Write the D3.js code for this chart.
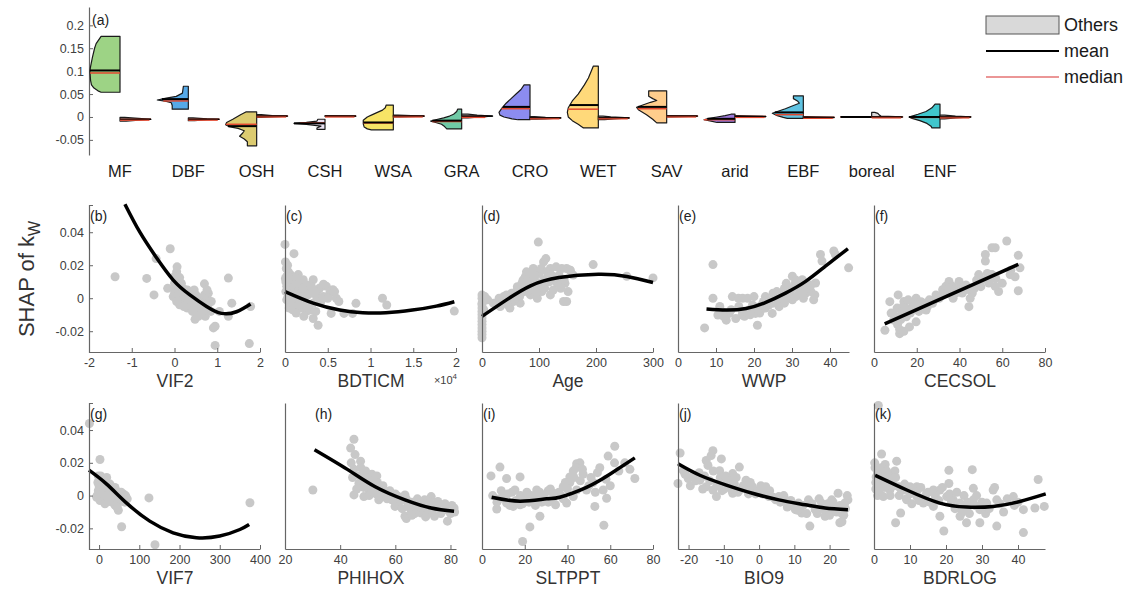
<!DOCTYPE html>
<html>
<head>
<meta charset="utf-8">
<script src="https://cdn.jsdelivr.net/npm/d3@7"></script>
<style>
  body { margin: 0; background: #fff; }
  text { font-family: "Liberation Sans", Arial, sans-serif; }
</style>
</head>
<body>
<script>
// ---------- panel (a): half violins per PFT vs. "Others" ----------
const pftNames = ["MF", "DBF", "OSH", "CSH", "WSA", "GRA", "CRO", "WET", "SAV", "arid", "EBF", "boreal", "ENF"];
const pftColors = ["#9dd385", "#55a9e8", "#dccb70", "#ece4f4", "#f7e466", "#6fcaa6", "#8c8cf0", "#ffd97a", "#ffcd8c", "#9c78da", "#5fc3e2", "#b8735c", "#40c6cc"];
// [SHAP value, relative density]
const pftDensity = [
  [[0.176,0.61],[0.16,0.77],[0.15,0.82],[0.13,0.89],[0.11,0.95],[0.10,0.97],[0.08,0.95],[0.07,0.92],[0.063,0.84],[0.057,0.71],[0.054,0.61]],
  [[0.067,0.16],[0.052,0.19],[0.045,0.39],[0.041,0.71],[0.037,1],[0.034,0.71],[0.031,0.55],[0.025,0.52],[0.017,0.52]],
  [[0.011,0.35],[0.005,0.52],[-0.005,0.77],[-0.012,0.97],[-0.017,1],[-0.021,0.9],[-0.025,0.6],[-0.03,0.4],[-0.035,0.45],[-0.042,0.55],[-0.048,0.4],[-0.054,0.3],[-0.063,0.3]],
  [[-0.005,0.23],[-0.009,0.26],[-0.012,0.6],[-0.014,1],[-0.016,0.6],[-0.02,0.13],[-0.024,0.26],[-0.027,0.26]],
  [[0.026,0.23],[0.02,0.26],[0.015,0.35],[0.009,0.55],[0.004,0.71],[0,0.84],[-0.007,0.97],[-0.015,0.97],[-0.022,0.94],[-0.026,0.84],[-0.028,0.71]],
  [[0.017,0.13],[0.012,0.16],[0.006,0.26],[0.002,0.39],[-0.002,0.58],[-0.006,0.84],[-0.009,1],[-0.012,0.84],[-0.016,0.65],[-0.021,0.55],[-0.026,0.48]],
  [[0.07,0.19],[0.06,0.29],[0.05,0.45],[0.04,0.61],[0.03,0.77],[0.02,0.9],[0.01,1],[0.004,0.97],[0,0.84],[-0.004,0.58],[-0.006,0.39]],
  [[0.111,0.16],[0.1,0.23],[0.085,0.32],[0.07,0.45],[0.05,0.65],[0.035,0.84],[0.02,0.97],[0.01,1],[0,0.97],[-0.008,0.84],[-0.016,0.65],[-0.024,0.48]],
  [[0.057,0.58],[0.045,0.58],[0.04,0.45],[0.036,0.32],[0.032,0.52],[0.026,0.77],[0.021,0.97],[0.015,0.9],[0.005,0.65],[-0.005,0.45],[-0.013,0.32]],
  [[0.006,0.13],[0.003,0.32],[0,0.58],[-0.003,0.84],[-0.006,1],[-0.009,0.77],[-0.012,0.58]],
  [[0.046,0.32],[0.04,0.32],[0.035,0.19],[0.03,0.13],[0.025,0.32],[0.018,0.58],[0.012,0.84],[0.008,1],[0.003,0.84],[-0.001,0.65],[-0.003,0.52]],
  [[0.001,0.2],[0,1],[-0.001,0.2]],
  [[0.028,0.16],[0.02,0.26],[0.012,0.45],[0.006,0.71],[0.002,0.9],[0,1],[-0.003,0.9],[-0.008,0.65],[-0.014,0.42],[-0.02,0.29],[-0.024,0.26]]
];
const pftMean   = [0.1015, 0.039, -0.020, -0.014, -0.012, -0.008, 0.022, 0.026, 0.022, -0.004, 0.010, 0, 0.0];
const pftMedian = [0.096, 0.035, -0.016, -0.013, -0.013, -0.010, 0.018, 0.017, 0.018, -0.006, 0.005, 0, -0.001];
const othersDensity = [
  [[-0.001,0.15],[-0.003,0.6],[-0.005,1],[-0.007,0.6],[-0.009,0.2]],
  [[-0.002,0.15],[-0.004,0.6],[-0.005,1],[-0.006,0.6],[-0.008,0.2]],
  [[0.005,0.15],[0.003,0.5],[0.002,1],[0.0,0.5],[-0.001,0.15]],
  [[0.003,0.1],[0.002,1],[0.001,0.1]],
  [[0.004,0.15],[0.002,1],[0,0.2]],
  [[0.006,0.2],[0.004,0.5],[0.002,1],[0,0.6],[-0.002,0.2]],
  [[0.001,0.15],[-0.001,0.5],[-0.002,1],[-0.004,0.5],[-0.005,0.2]],
  [[0.002,0.15],[0,0.4],[-0.002,1],[-0.004,0.5],[-0.006,0.2]],
  [[0.003,0.1],[0.002,1],[0.0,0.15]],
  [[0.003,0.1],[0.001,1],[0,0.15]],
  [[0.001,0.1],[-0.001,1],[-0.002,0.1]],
  [[0.01,0.1],[0.008,0.2],[0.004,0.25],[0.002,0.3],[0,1],[-0.001,0.3]],
  [[0.004,0.15],[0.002,0.5],[0,1],[-0.002,0.5],[-0.004,0.15]]
];
const othersMean   = [-0.005, -0.005, 0.002, 0.002, 0.002, 0.002, -0.002, -0.002, 0.002, 0.001, -0.001, 0, 0];
const othersMedian = [-0.005, -0.005, 0.002, 0.002, 0.002, 0.001, -0.002, -0.002, 0.002, 0.001, -0.001, 0, 0];
const aTicks = [-0.05, 0, 0.05, 0.1, 0.15, 0.2];

// ---------- panels (b)-(k): SHAP vs. predictor ----------
const panelTags = ["(b)", "(c)", "(d)", "(e)", "(f)", "(g)", "(h)", "(i)", "(j)", "(k)"];
const xLabels = ["VIF2", "BDTICM", "Age", "WWP", "CECSOL", "VIF7", "PHIHOX", "SLTPPT", "BIO9", "BDRLOG"];
const xDomains = [[-2,2],[0,2],[0,300],[0,45],[0,80],[-25,400],[20,82],[0,80],[-23,25.5],[0,47.5]];
const xTicks = [[-2,-1,0,1,2],[0,0.5,1,1.5,2],[0,100,200,300],[0,10,20,30,40],[0,20,40,60,80],
                [0,100,200,300,400],[20,40,60,80],[0,20,40,60,80],[-20,-10,0,10,20],[0,10,20,30,40]];
const yTicks = [-0.02, 0, 0.02, 0.04];

const ptsVIF2 = [[-1.39,0.013],[-0.65,0.012],[-0.48,0.002],[-0.43,0.024],[-0.1,0.030],[-0.16,0.006],[0.05,0.016],[0.12,0.0125],[0.08,0.010],[0.0,0.003],[-0.03,0.001],[0.09,0.005],[0.21,0.003],[0.29,0.001],[0.36,-0.001],[0.44,-0.003],[0.52,-0.005],[0.6,-0.003],[0.67,-0.001],[0.75,0.001],[0.79,0.003],[0.6,-0.007],[0.52,-0.009],[0.7,0.0087],[1.26,0.0122],[1.34,-0.003],[0.91,-0.018],[0.95,-0.0286],[1.75,-0.0275],[1.78,-0.005],[0.48,-0.0128],[0.72,-0.011],[1.26,-0.011],[0.15,0.0],[0.25,-0.002],[0.35,0.002],[0.4,-0.005],[0.55,0.0],[0.05,-0.002],[0.3,-0.006],[0.65,-0.005],[0.8,-0.003],[0.1,0.007],[0.2,0.006],[0.0,0.009],[0.95,-0.017],[1.05,-0.008],[0.85,-0.008],
  [0.02,0.006],[0.1,0.002],[0.18,-0.001],[0.26,0.004],[0.32,-0.003],[0.38,0.0],[0.46,-0.002],[0.5,0.002],[0.58,-0.001],[0.62,-0.006],[0.68,-0.004],[0.74,-0.002],[0.7,0.002],[0.42,-0.008],[0.56,-0.011],[0.64,-0.009],[0.78,-0.006],[0.86,-0.002],[0.12,-0.004],[0.22,-0.005],[0.0,0.013],[0.06,0.019],[0.16,0.009],[0.3,0.005],[0.46,0.005],[0.76,0.005]];
const fitVIF2 = [[-1.16,0.057],[-0.81,0.040],[-0.42,0.0245],[-0.03,0.011],[0.36,0.002],[0.75,-0.005],[1.1,-0.0092],[1.45,-0.0082],[1.78,-0.0035]];

const ptsBDTICM = [[0,0.0326],[0.105,0.027],[0.02,0.0133],[0.058,0.0112],[0.097,0.0123],[0.136,0.0092],[0.174,0.0072],[0.213,0.0112],[0.252,0.0051],[0.29,0.0031],[0.039,0.0031],[0.078,-0.001],[0.116,-0.0041],[0.174,0.001],[0.233,-0.003],[0.29,-0.0072],[0.33,-0.003],[0.368,0.001],[0.02,0.0072],[0.02,-0.001],[0.155,0.0143],[0.33,0.0112],[0.387,0.0051],[0.407,0.0062],[0.446,0.001],[0.484,0.0072],[0.523,0.0031],[0.56,0.0051],[0.6,0.0],[0.63,-0.002],[0.54,-0.0092],[0.387,-0.0164],[0.33,-0.0123],[0.69,-0.0092],[0.79,-0.0092],[0.83,-0.0031],[1.14,0.0],[1.19,-0.0041],[1.98,-0.0078],[0.01,0.01],[0.05,0.006],[0.07,0.014],[0.12,0.011],[0.1,0.004],[0.2,0.002],[0.26,0.008],[0.04,0.016],[0.015,0.018],[0.06,-0.004],[0.18,-0.006],[0.45,0.0085],[0.25,-0.008],[0.14,0.0005],
  [0.005,0.012],[0.03,0.009],[0.045,0.013],[0.065,0.008],[0.085,0.005],[0.11,0.007],[0.13,0.012],[0.15,0.004],[0.17,0.009],[0.19,0.003],[0.21,0.006],[0.23,0.001],[0.27,0.002],[0.31,0.007],[0.35,0.004],[0.01,0.004],[0.03,0.0],[0.05,-0.006],[0.09,-0.007],[0.1,-0.002],[0.13,-0.009],[0.16,-0.004],[0.2,-0.003],[0.22,-0.011],[0.28,-0.005],[0.42,-0.002],[0.5,0.0],[0.58,0.004],[0.36,-0.008],[0.005,0.022],[0.03,0.02]];
const fitBDTICM = [[0,0.004],[0.33,-0.003],[0.64,-0.0072],[0.91,-0.0088],[1.18,-0.0088],[1.49,-0.0072],[1.77,-0.0048],[1.98,-0.0021]];

const ptsAge = [[0,0.0],[0,-0.004],[0,-0.008],[0,-0.012],[0,-0.016],[0,-0.02],[0,-0.024],[0,0.002],[0,-0.006],[0,-0.014],[0,-0.022],[98.8,0.034],[19.9,-0.003],[43,0.002],[55,-0.002],[67,0.005],[78,0.009],[78,0.016],[85,0.013],[97,0.007],[108,0.011],[108,0.022],[120,0.018],[132,0.009],[143,-0.002],[140,0.018],[155,0.017],[67,-0.003],[49,-0.006],[32,-0.005],[85,0.002],[97,0.0],[120,0.002],[82,0.007],[148.5,0.018],[154,0.017],[145.6,0.009],[151,0.004],[148.5,-0.002],[195,0.0204],[254,0.0133],[300,0.0123],[60,0.004],[72,0.011],[90,0.018],[100,0.015],[115,0.013],[125,0.005],[105,0.004],[90,0.010],[112,0.024],[30,0.0],[10,-0.001],[135,0.014],
  [38,0.001],[45,-0.004],[52,0.003],[58,0.0],[62,0.007],[66,0.001],[70,0.009],[74,0.004],[76,0.013],[80,0.011],[84,0.005],[88,0.015],[92,0.012],[94,0.004],[102,0.009],[104,0.018],[110,0.006],[114,0.016],[118,0.01],[122,0.014],[128,0.012],[130,0.019],[138,0.006],[144,0.011],[160,0.014],[24,-0.004],[5,0.001],[0,-0.018],[0,-0.01],[0,-0.003],[3,-0.007]];
const fitAge = [[0,-0.011],[43,-0.001],[85,0.0075],[135,0.0125],[204,0.0145],[254,0.0132],[300,0.0095]];

const ptsWWP = [[9.2,0.0204],[7.0,-0.018],[9.2,0.0],[10.5,-0.0102],[12.7,-0.0133],[14.3,0.001],[15.9,0.0],[18.3,0.0],[20.9,-0.0164],[13.5,-0.0092],[15.2,-0.0123],[16.9,-0.0102],[18.7,-0.0072],[20.4,-0.0092],[22.2,-0.0062],[23.9,-0.0041],[25.7,0.001],[27.4,0.0031],[29.2,0.0051],[30.1,0.0133],[30.9,0.0092],[32.7,0.0112],[33.6,0.0031],[34.4,0.0072],[35.7,-0.001],[36.2,0.0092],[23.0,0.001],[26.6,-0.0051],[19.6,-0.0041],[24.8,-0.0092],[30.1,-0.001],[31.8,0.002],[37.5,0.0265],[37.9,0.0225],[41.0,0.0286],[41.4,0.0265],[44.9,0.0184],[28,0.006],[29,0.0],[32,0.006],[27,-0.002],[21.5,-0.009],[17.5,-0.011],[11.5,-0.008],[22.5,-0.002],[26,0.004],[33,0.009],[35,0.004],
  [14,-0.007],[16,-0.005],[17,-0.008],[19,-0.01],[20,-0.005],[21,-0.007],[22,-0.004],[23,-0.006],[24,-0.002],[25,-0.003],[25,0.003],[26,-0.0005],[27,0.001],[28,-0.003],[28.5,0.009],[29.5,0.003],[30,0.006],[31,0.001],[31,0.011],[32,0.004],[33,0.0],[34,0.006],[35,0.008],[36,0.002],[12,-0.011],[11,-0.005],[20,0.001],[17,0.0]];
const fitWWP = [[7.5,-0.0065],[12.7,-0.0072],[17.9,-0.0062],[23.1,-0.0025],[28.3,0.0031],[33.6,0.0102],[38.8,0.0194],[44.7,0.0300]];

const ptsCECSOL = [[5.1,-0.0194],[7.4,-0.0021],[11.3,0.002],[12.0,-0.0215],[13.6,-0.0051],[15.1,-0.0112],[16.6,-0.0174],[18.2,-0.0031],[19.7,0.0],[19.7,-0.0143],[22.0,-0.0021],[24.4,-0.0072],[25.9,-0.001],[29.0,0.002],[32.1,0.0051],[35.1,0.0102],[36.7,0.0072],[39.8,0.0102],[41.3,0.0031],[44.4,-0.0051],[46.0,0.0031],[49.0,0.0143],[52.1,0.0225],[52.1,0.0265],[55.2,0.0306],[56.7,0.0306],[55.2,0.0143],[58.3,0.0041],[62.1,0.0347],[63.7,0.0143],[67.5,0.026],[67.5,0.0045],[68.3,0.0184],[10.8,-0.006],[13.1,-0.0082],[21.2,-0.0051],[27.4,-0.0031],[30.5,0.0],[33.6,0.0072],[38.2,0.0031],[42.9,0.0051],[50.6,0.0112],[53.7,0.0092],[56.7,0.0072],[9.2,-0.0133],
  [8,-0.009],[10,-0.011],[11,-0.016],[12.5,-0.013],[14,-0.002],[15,-0.006],[16,-0.001],[17,-0.009],[18,-0.006],[20,-0.004],[21,-0.008],[23,-0.003],[25,-0.005],[28,-0.001],[31,0.001],[34,0.003],[35,0.006],[37,0.0],[40,0.006],[43,0.008],[45,0.0],[47,0.006],[48,0.011],[50,0.007],[53,0.015],[54,0.011],[57,0.012],[60,0.009],[64,0.017],[66,0.013],[12,-0.019],[14,-0.02]];
const fitCECSOL = [[5,-0.0155],[67.5,0.0205]];

const ptsVIF7 = [[-24,0.044],[2.3,0.022],[-1.9,0.012],[2.3,0.009],[10.6,0.005],[18.9,0.003],[27.2,0.007],[35.4,0.001],[43.7,-0.003],[52,-0.001],[60.3,0.001],[68.6,-0.002],[47.9,-0.009],[2.3,-0.003],[-1.9,0.003],[10.6,-0.001],[18.9,0.011],[27.2,0.003],[39.6,0.005],[14.7,-0.005],[-6,-0.001],[56.1,-0.019],[124,-0.0014],[139,-0.030],[375,-0.0044],[6,0.007],[24,-0.002],[32,-0.004],[55,0.002],[64,-0.004],[40,-0.006],
  [0,0.006],[4,0.012],[6,0.0],[8,0.009],[12,0.003],[14,0.008],[16,0.0],[20,0.006],[22,0.0],[24,0.004],[26,-0.003],[30,0.001],[34,0.004],[36,-0.003],[42,0.0],[46,-0.005],[50,0.002],[58,-0.003],[62,-0.001],[66,0.0],[70,-0.002],[45,-0.007],[-3,0.008],[-5,0.0]];
const fitVIF7 = [[-25,0.0155],[18.9,0.007],[68.6,-0.0046],[126,-0.0156],[184,-0.0227],[242,-0.0257],[300,-0.0247],[350,-0.0207],[373,-0.0177]];

const ptsPHIHOX = [[30.1,0.0034],[45,0.0344],[43.8,0.029],[45.4,0.025],[47.4,0.021],[45,0.016],[49.2,0.015],[51.5,0.013],[53.3,0.012],[46.8,0.0074],[45,0.0004],[48.6,-0.0006],[50.4,0.0034],[52.7,0.0054],[55.1,0.0034],[56.3,-0.0006],[58.7,-0.0026],[61.1,-0.0006],[63.5,0.0004],[64.6,-0.0046],[63.5,-0.0126],[65.8,-0.0096],[68.2,-0.0056],[70.6,-0.0026],[73.0,-0.0006],[75.4,-0.0036],[74.2,-0.0126],[77.7,-0.0086],[78.9,-0.0156],[81.3,-0.0076],[69.4,-0.0106],[71.8,-0.0076],[59.9,-0.0066],[54,-0.0026],[48,0.0094],[57.5,0.0014],[47,0.012],[50,0.006],[53,0.001],[61,-0.004],[67,-0.008],[72,-0.010],[76,-0.006],[80,-0.011],
  [44,0.02],[44.5,0.011],[46,0.004],[47.5,0.017],[48.5,0.005],[49.5,0.011],[50.5,0.0],[51,0.009],[52,0.002],[53.5,0.008],[54.5,0.0],[55.5,0.006],[57,-0.002],[58,0.003],[59,-0.0015],[60,0.001],[62,-0.003],[62.5,-0.008],[64,-0.002],[65,-0.007],[66,-0.004],[67,-0.011],[68,-0.002],[69,-0.007],[70,-0.005],[71,-0.013],[72.5,-0.004],[73.5,-0.009],[75,-0.007],[76.5,-0.011],[78,-0.005],[79,-0.009],[80.5,-0.006],[81.5,-0.01],[64,-0.014],[66,-0.012]];
const fitPHIHOX = [[30.7,0.028],[42.6,0.016],[52.7,0.0054],[63.5,-0.0026],[73,-0.0076],[81.3,-0.0096]];

const ptsSLTPPT = [[4.2,0.012],[8.4,0.0174],[6.9,-0.0082],[11.5,0.0104],[17.8,0.0114],[15.4,0.0034],[22.4,-0.0191],[19,-0.028],[14.6,-0.0066],[27.1,-0.0126],[25.6,0.0034],[30.2,-0.0026],[33.3,0.0014],[38,0.0054],[41.1,0.0114],[44.3,0.0194],[34.4,-0.0056],[24,-0.0026],[17.8,-0.0056],[11.5,-0.0046],[45.8,0.020],[42.7,0.015],[47.3,0.013],[41.1,0.008],[48.9,0.0034],[42.7,-0.0006],[39.6,-0.0046],[52,0.008],[55.1,0.017],[56.7,0.0034],[52.8,-0.0066],[58.3,-0.0016],[59,0.0241],[62.1,0.0301],[57,-0.0181],[66.8,0.020],[69.2,0.016],[71.5,0.0104],[44.3,0.0034],[8,-0.002],[21,-0.001],[28,-0.004],[36,0.002],[31,0.003],
  [5,0.0],[7,-0.004],[9,0.003],[10,-0.001],[12,0.001],[13,-0.006],[14,0.002],[16,-0.003],[18,0.0],[19,-0.005],[20,-0.002],[21,0.002],[22,-0.004],[23,0.0],[25,-0.006],[26,-0.001],[27,0.002],[28,-0.002],[29,0.0],[31,-0.004],[32,0.004],[33,-0.002],[35,0.001],[37,0.0],[38,-0.002],[39,0.008],[40,0.004],[43,0.011],[44,0.017],[46,0.009],[47,0.016],[50,0.006],[51,0.011],[53,0.002],[54,0.014],[58,0.01],[60,0.006],[62,0.02],[64,0.015]];
const fitSLTPPT = [[4.5,-0.001],[17.8,-0.0034],[30.2,-0.002],[36.4,-0.001],[48.9,0.005],[59.8,0.013],[71.5,0.023]];

const ptsBIO9 = [[-22.4,0.026],[-23,0.0074],[-21.5,0.0152],[-20.1,0.0104],[-16.8,0.0094],[-15,0.0214],[-14.5,0.0184],[-13.1,0.0274],[-13.6,0.0244],[-15,0.0054],[-13.1,0.0034],[-11.2,0.0152],[-10.7,0.0224],[-9.3,0.0074],[-7.5,0.0134],[-5.6,0.0174],[-7.5,0.0014],[-12.1,-0.0006],[-3.7,0.0094],[-1.9,0.0054],[0.0,0.0034],[1.9,0.0054],[2.8,-0.0006],[4.7,-0.0026],[7.5,-0.0026],[9.3,-0.0056],[10.3,-0.0086],[12.1,-0.0106],[14,-0.0026],[14.4,-0.0186],[15.9,-0.0086],[17.7,-0.0046],[18.7,-0.0126],[20.6,-0.0026],[22.4,0.0014],[22.9,-0.0166],[24.3,-0.0046],[25.2,-0.0026],[21.5,-0.0086],[11.2,-0.0046],[5.6,-0.0006],[-5.6,0.0034],[-18.7,0.0124],[-10,0.004],[-3,0.001],[8,-0.007],[19.5,-0.008],[23.5,-0.011],
  [-21,0.013],[-19.5,0.006],[-18,0.009],[-17,0.014],[-16,0.004],[-15.5,0.012],[-14,0.009],[-13,0.015],[-12,0.006],[-11,0.011],[-10.5,0.003],[-9.5,0.012],[-8.5,0.009],[-8,0.004],[-7,0.007],[-6.5,0.011],[-6,0.002],[-4.5,0.006],[-3,0.004],[-2.5,0.008],[-1,0.001],[0.5,0.006],[1,0.001],[3,0.003],[4,-0.001],[6,-0.004],[7,0.0],[9,-0.003],[10,-0.006],[11,-0.009],[12.5,-0.006],[13.5,-0.011],[15,-0.005],[16.5,-0.011],[17,-0.002],[18,-0.008],[19.5,-0.005],[20,-0.012],[21,-0.004],[22,-0.01],[23,-0.006],[24,-0.012],[24.5,-0.008],[25,0.0],[23.5,-0.016]];
const fitBIO9 = [[-23,0.0194],[-16.8,0.0124],[-9.3,0.0064],[-1.9,0.0014],[5.6,-0.0026],[13.1,-0.0056],[18.7,-0.0076],[25.2,-0.0086]];

const ptsBDRLOG = [[1.2,0.055],[2.1,0.0254],[6.3,0.021],[0.3,0.017],[3.1,0.019],[5.8,0.015],[0.6,0.0114],[1.5,0.0074],[3.5,0.0094],[4.4,0.0034],[6.9,0.0054],[8.1,0.0034],[10,0.0054],[11.9,-0.0006],[14.6,0.0014],[16.5,0.0034],[18.3,0.0034],[20.2,-0.0006],[22,-0.0026],[23.9,-0.0046],[25.7,-0.0066],[27.6,-0.0026],[29.4,-0.0086],[31.3,-0.0046],[33.1,0.0034],[34.1,-0.0026],[7.4,-0.0106],[6,-0.0166],[19.4,-0.0216],[20.8,0.0154],[20.8,0.0074],[27.3,0.0158],[27.6,0.0044],[34.1,-0.0186],[38.7,-0.0006],[41.5,-0.0086],[41.5,-0.0226],[44.7,-0.0076],[45.6,0.0098],[47.3,-0.0066],[11.9,0.0054],[16.5,-0.0066],[18.3,-0.0126],[23.9,-0.0126],[25.7,-0.0166],[29.4,-0.0166],[13.7,-0.0046],[2.6,-0.0006],[9.1,-0.0026],[0.5,0.004],[2,0.012],[4,0.008],[1,0.0],[12,0.003],[17,0.001],
  [0.2,0.02],[0.5,0.008],[1,0.014],[1.5,0.003],[2,0.017],[2.5,0.01],[3,0.005],[3.5,0.015],[4,0.012],[4.5,0.0],[5,0.009],[5.5,0.006],[6,0.011],[7,0.0],[7.5,0.004],[8.5,0.007],[9,-0.002],[10,0.001],[10.5,-0.005],[11,0.003],[12.5,-0.003],[13,0.005],[14,-0.001],[15,0.002],[15.5,-0.004],[17,0.0],[18,-0.003],[19,0.005],[21,0.001],[21.5,-0.004],[22.5,-0.008],[23,0.002],[24.5,-0.01],[25,0.0],[26,-0.004],[26.5,-0.011],[28,-0.006],[28.5,0.0],[30,-0.004],[31,-0.011],[32,-0.008],[33.5,0.005],[35,-0.005],[36,-0.01],[37,-0.002],[39,-0.006],[40,-0.004]];
const fitBDRLOG = [[0.3,0.0124],[9.1,0.0034],[18.3,-0.0046],[25.7,-0.007],[33.1,-0.0066],[40.5,-0.0036],[47.7,0.001]];

const panelPts = [ptsVIF2, ptsBDTICM, ptsAge, ptsWWP, ptsCECSOL, ptsVIF7, ptsPHIHOX, ptsSLTPPT, ptsBIO9, ptsBDRLOG];
const panelFits = [fitVIF2, fitBDTICM, fitAge, fitWWP, fitCECSOL, fitVIF7, fitPHIHOX, fitSLTPPT, fitBIO9, fitBDRLOG];

// ---------- layout ----------
const width = 1132, height = 590;
const colLeft = [89, 285, 482, 678, 874];
const panelW = 172;
const rowTop = [205, 403], rowBottom = [352, 549];
const tagOffset = [1, 1, 1, 1, 1, 1, 30, 1, 1, 1];

const axisColor = "#666", tickText = "#404040";
const medianColor = "#e3482f";

const svg = d3.select("body").append("svg")
    .attr("width", width)
    .attr("height", height)
    .style("background", "#fff");

function styleAxis(g, fs) {
    g.select(".domain").attr("stroke", axisColor).attr("stroke-width", 1.2);
    g.selectAll(".tick line").attr("stroke", axisColor);
    g.selectAll(".tick text").attr("fill", tickText).style("font-size", fs + "px")
        .style("font-family", '"Liberation Sans", Arial, sans-serif');
}

// ---------- panel (a) ----------
const yA = d3.scaleLinear().domain([-0.083, 0.24]).range([155, 7]);
const xA = d3.scalePoint().domain(pftNames).range([120, 940]);
const wA = d3.scaleLinear().domain([0, 1]).range([0, 31]);

svg.append("g")
    .attr("transform", "translate(89,0)")
    .call(d3.axisLeft(yA).tickValues(aTicks).tickFormat(d => String(d)).tickSize(-4).tickSizeOuter(0).tickPadding(5))
    .call(g => styleAxis(g, 12.5));

svg.append("text").attr("x", 92).attr("y", 25).style("font-size", "14px").attr("fill", "#222").text("(a)");

const gA = svg.append("g");
pftNames.forEach(function(name, i) {
    const c = xA(name);
    const dens = pftDensity[i], oth = othersDensity[i];
    const widthAt = p => d3.scaleLinear().domain(p.map(d => d[0])).range(p.map(d => d[1])).clamp(true);

    // colored half (left)
    gA.append("path")
        .datum(dens)
        .attr("d", d3.area().y(d => yA(d[0])).x0(c).x1(d => c - wA(d[1])))
        .attr("fill", pftColors[i])
        .attr("stroke", "#1a1a1a")
        .attr("stroke-width", 1.2)
        .attr("stroke-linejoin", "round");
    // others half (right)
    gA.append("path")
        .datum(oth)
        .attr("d", d3.area().y(d => yA(d[0])).x0(c).x1(d => c + wA(d[1])))
        .attr("fill", "#d9d9d9")
        .attr("stroke", "#1a1a1a")
        .attr("stroke-width", 1.2)
        .attr("stroke-linejoin", "round");

    const wd = widthAt(dens), wo = widthAt(oth);
    [[pftMedian[i], medianColor, 1.5], [pftMean[i], "#000", 2]].forEach(function(m) {
        gA.append("line")
            .attr("x1", c - wA(wd(m[0]))).attr("x2", c)
            .attr("y1", yA(m[0])).attr("y2", yA(m[0]))
            .attr("stroke", m[1]).attr("stroke-width", m[2]);
    });
    [[othersMedian[i], medianColor, 1.5], [othersMean[i], "#000", 1.5]].forEach(function(m) {
        gA.append("line")
            .attr("x1", c).attr("x2", c + wA(wo(m[0])))
            .attr("y1", yA(m[0])).attr("y2", yA(m[0]))
            .attr("stroke", m[1]).attr("stroke-width", m[2]);
    });
    // median drawn on top for the thin "others" shapes
    gA.append("line")
        .attr("x1", c).attr("x2", c + wA(wo(othersMedian[i])) * 0.95)
        .attr("y1", yA(othersMedian[i]) + 1).attr("y2", yA(othersMedian[i]) + 1)
        .attr("stroke", medianColor).attr("stroke-width", 1.2);
});

svg.selectAll(".pftlabel")
    .data(pftNames)
    .join("text")
    .attr("x", d => xA(d))
    .attr("y", 177)
    .attr("text-anchor", "middle")
    .style("font-size", "16.5px")
    .attr("fill", "#1a1a1a")
    .text(d => d);

// legend
const lg = svg.append("g");
lg.append("rect").attr("x", 986).attr("y", 16).attr("width", 73).attr("height", 18)
    .attr("fill", "#d9d9d9").attr("stroke", "#555").attr("stroke-width", 1);
lg.append("line").attr("x1", 986).attr("x2", 1059).attr("y1", 51).attr("y2", 51).attr("stroke", "#000").attr("stroke-width", 2);
lg.append("line").attr("x1", 986).attr("x2", 1059).attr("y1", 77).attr("y2", 77).attr("stroke", "#e57373").attr("stroke-width", 1.5);
lg.selectAll("text")
    .data([["Others", 31], ["mean", 57], ["median", 83]])
    .join("text")
    .attr("x", 1064)
    .attr("y", d => d[1])
    .style("font-size", "18px")
    .attr("fill", "#1a1a1a")
    .text(d => d[0]);

// ---------- panels (b)-(k) ----------
xLabels.forEach(function(lab, i) {
    const row = Math.floor(i / 5), col = i % 5;
    const x0 = colLeft[col];
    const x = d3.scaleLinear().domain(xDomains[i]).range([x0, x0 + panelW - 1]);
    const y = d3.scaleLinear().domain([-0.0326, 0.0565]).range([rowBottom[row], rowTop[row]]);
    const g = svg.append("g");

    g.selectAll("circle")
        .data(panelPts[i])
        .join("circle")
        .attr("cx", d => x(d[0]))
        .attr("cy", d => y(d[1]))
        .attr("r", 4.5)
        .attr("fill", "#c8c8c8");

    g.append("path")
        .datum(panelFits[i])
        .attr("fill", "none")
        .attr("stroke", "#000")
        .attr("stroke-width", 3.5)
        .attr("d", d3.line().x(d => x(d[0])).y(d => y(d[1])).curve(d3.curveNatural));

    g.append("g")
        .attr("transform", `translate(0,${rowBottom[row]})`)
        .call(d3.axisBottom(x).tickValues(xTicks[i]).tickFormat(d => String(d)).tickSize(-4).tickSizeOuter(0).tickPadding(6))
        .call(a => styleAxis(a, 12.5));

    const yAxis = d3.axisLeft(y).tickSizeOuter(0);
    if (col === 0) yAxis.tickValues(yTicks).tickFormat(d => String(d)).tickSize(-4).tickPadding(5);
    else yAxis.tickValues([]);
    g.append("g")
        .attr("transform", `translate(${x0},0)`)
        .call(yAxis)
        .call(a => styleAxis(a, 12.5));

    g.append("text")
        .attr("x", x0 + tagOffset[i])
        .attr("y", rowTop[row] + 16)
        .style("font-size", "14px")
        .attr("fill", "#222")
        .text(panelTags[i]);

    g.append("text")
        .attr("x", x0 + panelW / 2)
        .attr("y", rowBottom[row] + 35)
        .attr("text-anchor", "middle")
        .style("font-size", "17.5px")
        .attr("fill", "#333")
        .text(lab);
});

// x10^4 multiplier for BDTICM
const mult = svg.append("text")
    .attr("x", 457)
    .attr("y", 384)
    .attr("text-anchor", "end")
    .style("font-size", "11px")
    .attr("fill", "#404040");
mult.append("tspan").text("\u00d710");
mult.append("tspan").attr("dy", -5).style("font-size", "8px").text("4");

// shared y title
const yt = svg.append("text")
    .attr("transform", "translate(34,279) rotate(-90)")
    .attr("text-anchor", "middle")
    .style("font-size", "22px")
    .attr("fill", "#333");
yt.append("tspan").text("SHAP of k");
yt.append("tspan").attr("dy", 6).style("font-size", "16px").text("W");
</script>
</body>
</html>
